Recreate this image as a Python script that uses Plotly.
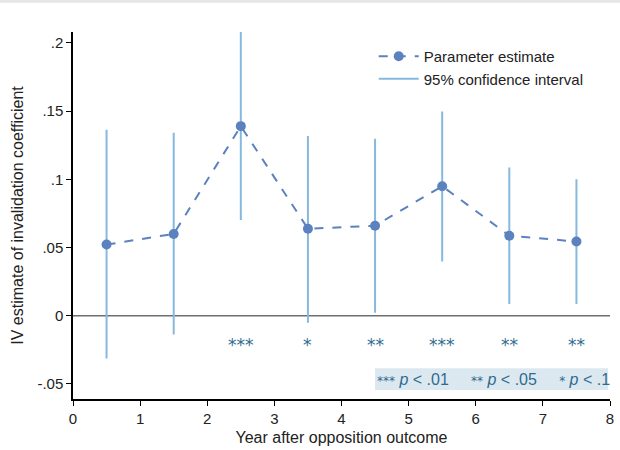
import plotly.graph_objects as go

# Yearly IV estimates with 95% confidence bounds
years = [0.5, 1.5, 2.5, 3.5, 4.5, 5.5, 6.5, 7.5]
estimate = [0.0522, 0.0600, 0.1390, 0.0638, 0.0660, 0.0950, 0.0587, 0.0544]
ci_upper = [0.1356, 0.1334, 0.2090, 0.1310, 0.1290, 0.1490, 0.1080, 0.0993]
ci_lower = [-0.0305, -0.0130, 0.0710, -0.0044, 0.0030, 0.0406, 0.0094, 0.0094]
stars = ["", "", "***", "*", "**", "***", "**", "**"]

y_ticks = [-0.05, 0, 0.05, 0.1, 0.15, 0.2]
y_tick_text = ["-.05", "0", ".05", ".1", ".15", ".2"]
x_ticks = [0, 1, 2, 3, 4, 5, 6, 7, 8]

est_color = "#5b82bf"
ci_color = "#86b9de"
star_color = "#2f6b8f"
font = "Liberation Sans, Arial, sans-serif"
star_font = "DejaVu Sans, sans-serif"

fig = go.Figure()

# Confidence intervals drawn as vertical whiskers
fig.add_trace(go.Scatter(
    x=years, y=estimate, mode="none", showlegend=False, hoverinfo="skip",
    error_y=dict(type="data", symmetric=False,
                 array=[u - e for u, e in zip(ci_upper, estimate)],
                 arrayminus=[e - l for e, l in zip(estimate, ci_lower)],
                 color=ci_color, thickness=2, width=1),
))

# Legend entries
fig.add_trace(go.Scatter(
    x=[None], y=[None], mode="lines+markers", name="Parameter estimate",
    line=dict(color=est_color, width=2, dash="dash"),
    marker=dict(color=est_color, size=10),
))
fig.add_trace(go.Scatter(
    x=[None], y=[None], mode="lines", name="95% confidence interval",
    line=dict(color=ci_color, width=2),
))

# Point estimates
fig.add_trace(go.Scatter(
    x=years, y=estimate, mode="lines+markers", showlegend=False,
    line=dict(color=est_color, width=2, dash="dash"),
    marker=dict(color=est_color, size=10),
))

# Significance stars below the zero line
for x, s in zip(years, stars):
    if s:
        fig.add_annotation(x=x, y=-0.0215, text=s, showarrow=False,
                           font=dict(family=star_font, size=17, color=star_color),
                           xanchor="center", yanchor="middle")

# Key for the significance stars
fig.add_shape(type="rect", x0=4.5, x1=7.97, y0=-0.0544, y1=-0.0384,
              fillcolor="#dce8ef", line=dict(width=0), layer="below")
key_star = '<span style="font-family:DejaVu Sans;font-size:12px">{}</span>'
fig.add_annotation(
    x=6.26, y=-0.0466, showarrow=False, xanchor="center", yanchor="middle",
    text=(key_star.format("***") + " <i>p</i> &lt; .01     "
          + key_star.format("**") + " <i>p</i> &lt; .05     "
          + key_star.format("*") + " <i>p</i> &lt; .1"),
    font=dict(family=font, size=16, color=star_color),
)

# Zero reference line
fig.add_shape(type="line", x0=0, x1=8, y0=0, y1=0,
              line=dict(color="#6e6e6e", width=1.5), layer="below")

# Thin gray band along the top edge
fig.add_shape(type="rect", xref="paper", yref="paper",
              x0=-0.2, x1=1.1, y0=1.08, y1=1.095,
              fillcolor="#e6e6e6", line=dict(width=0))

fig.update_layout(
    width=620, height=450,
    margin=dict(l=73, r=6, t=32, b=45),
    paper_bgcolor="white", plot_bgcolor="white",
    font=dict(family=font, size=15, color="#222"),
    legend=dict(x=0.56, y=0.978, xanchor="left", yanchor="top",
                bgcolor="rgba(0,0,0,0)", font=dict(size=15),
                itemwidth=40, tracegroupgap=2),
    xaxis=dict(range=[0, 8], tickvals=x_ticks, showgrid=False, zeroline=False,
               showline=True, linecolor="black", linewidth=1.5,
               ticks="outside", ticklen=5, tickcolor="black",
               tickfont=dict(size=15),
               title=dict(text="Year after opposition outcome",
                          font=dict(size=16), standoff=6)),
    yaxis=dict(range=[-0.061, 0.208], tickvals=y_ticks, ticktext=y_tick_text,
               showgrid=False, zeroline=False,
               showline=True, linecolor="black", linewidth=1.5,
               ticks="outside", ticklen=5, tickcolor="black",
               tickfont=dict(size=15),
               title=dict(text="IV estimate of invalidation coefficient",
                          font=dict(size=16), standoff=10)),
)

fig.write_html("out.html")
